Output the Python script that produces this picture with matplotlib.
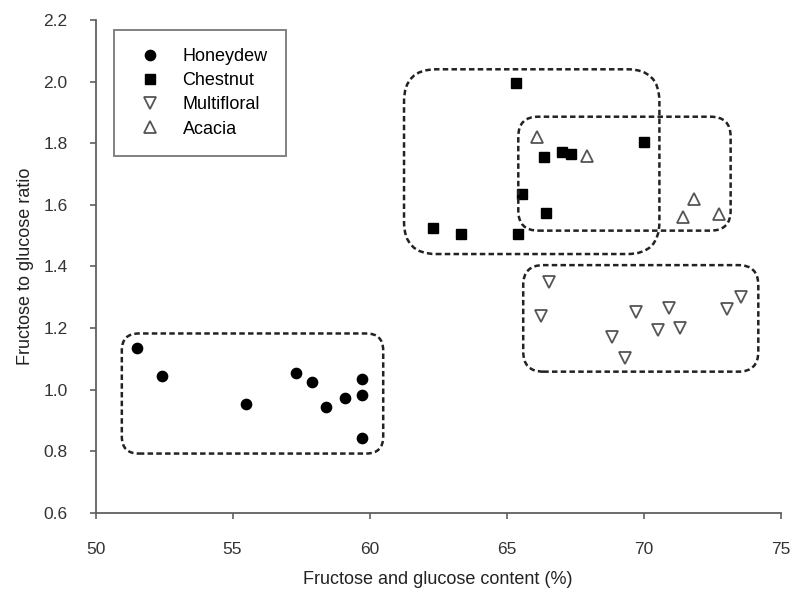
import matplotlib
matplotlib.use("Agg")
import matplotlib.pyplot as plt
from matplotlib.patches import FancyBboxPatch
from matplotlib.lines import Line2D

plt.rcParams['font.family'] = ['Liberation Sans', 'DejaVu Sans']

# Data
honeydew_x = [51.53, 52.42, 55.50, 57.32, 57.90, 58.41, 59.11, 59.73, 59.73, 59.73]
honeydew_y = [1.134, 1.044, 0.953, 1.055, 1.023, 0.942, 0.973, 1.033, 0.982, 0.844]

chestnut_x = [65.34, 62.33, 63.33, 65.43, 65.55, 66.36, 66.44, 67.01, 67.34, 70.03]
chestnut_y = [1.995, 1.524, 1.504, 1.504, 1.634, 1.754, 1.572, 1.772, 1.764, 1.805]

multifloral_x = [66.55, 66.26, 69.73, 68.85, 69.32, 70.94, 70.54, 71.33, 73.05, 73.55]
multifloral_y = [1.348, 1.240, 1.251, 1.172, 1.101, 1.264, 1.193, 1.199, 1.260, 1.300]

acacia_x = [66.10, 67.95, 71.83, 71.43, 72.74]
acacia_y = [1.82, 1.76, 1.62, 1.56, 1.57]

x_ticks = [50, 55, 60, 65, 70, 75]
y_ticks = [0.6, 0.8, 1.0, 1.2, 1.4, 1.6, 1.8, 2.0, 2.2]

# Group outlines (x0, x1, y0, y1) in data units, corner radius in px
groups = [
    (50.96, 60.50, 0.792, 1.182, 17),
    (61.26, 70.58, 1.440, 2.040, 32),
    (65.43, 73.18, 1.516, 1.886, 20),
    (65.61, 74.19, 1.058, 1.404, 20),
]

fig = plt.figure(figsize=(7.94, 5.96), dpi=100)
ax = fig.add_axes([0.1203, 0.1398, 0.983 - 0.1203, 0.9664 - 0.1398])
ax.set_xlim(50, 75)
ax.set_ylim(0.6, 2.2)

spine_col = '#606060'
for s in ['top', 'right']:
    ax.spines[s].set_visible(False)
for s in ['left', 'bottom']:
    ax.spines[s].set_color(spine_col)
    ax.spines[s].set_linewidth(1.3)
ax.tick_params(direction='out', length=4, width=1.2, color=spine_col,
               labelsize=12.5, labelcolor='#333333')
ax.tick_params(axis='x', pad=17)
ax.tick_params(axis='y', pad=16)
ax.set_xticks(x_ticks)
ax.set_xticklabels([str(v) for v in x_ticks])
ax.set_yticks(y_ticks)
ax.set_yticklabels([f"{v:.1f}" for v in y_ticks])

ms = 7.4
ax.plot(honeydew_x, honeydew_y, 'o', ms=ms, color='black', clip_on=False)
ax.plot(chestnut_x, chestnut_y, 's', ms=ms * 0.95, color='black', clip_on=False)
ax.plot(multifloral_x, multifloral_y, 'v', ms=ms * 1.15, mfc='white', mec='#555555', mew=1.3)
ax.plot(acacia_x, acacia_y, '^', ms=ms * 1.15, mfc='white', mec='#555555', mew=1.3)

# Dashed rounded boxes drawn in display space
fig.canvas.draw()
for x0, x1, y0, y1, r in groups:
    (px0, py0) = ax.transData.transform((x0, y0))
    (px1, py1) = ax.transData.transform((x1, y1))
    patch = FancyBboxPatch((px0 + r, py0 + r), (px1 - px0) - 2 * r, (py1 - py0) - 2 * r,
                           boxstyle=f"round,pad={r},rounding_size={r}",
                           transform=None, fill=False, edgecolor='#222222',
                           linewidth=1.8, linestyle=(0, (2.2, 1.3)))
    fig.add_artist(patch)

ax.set_xlabel('Fructose and glucose content (%)', fontsize=13, color='#222222', labelpad=10)
ax.set_ylabel('Fructose to glucose ratio', fontsize=13, color='#222222', labelpad=7)

handles = [
    Line2D([], [], ls='none', marker='o', ms=ms, color='black'),
    Line2D([], [], ls='none', marker='s', ms=ms * 0.95, color='black'),
    Line2D([], [], ls='none', marker='v', ms=ms * 1.15, mfc='white', mec='#555555', mew=1.3),
    Line2D([], [], ls='none', marker='^', ms=ms * 1.15, mfc='white', mec='#555555', mew=1.3),
]
leg = ax.legend(handles, ['Honeydew', 'Chestnut', 'Multifloral', 'Acacia'],
                loc='upper left', bbox_to_anchor=(0.027, 0.98), fontsize=13,
                frameon=True, fancybox=False, borderpad=1.0, labelspacing=0.4,
                handletextpad=0.8, borderaxespad=0, handlelength=2.0)
leg.get_frame().set_edgecolor('#555555')
leg.get_frame().set_linewidth(1.3)

fig.savefig('out.png', dpi=100)
